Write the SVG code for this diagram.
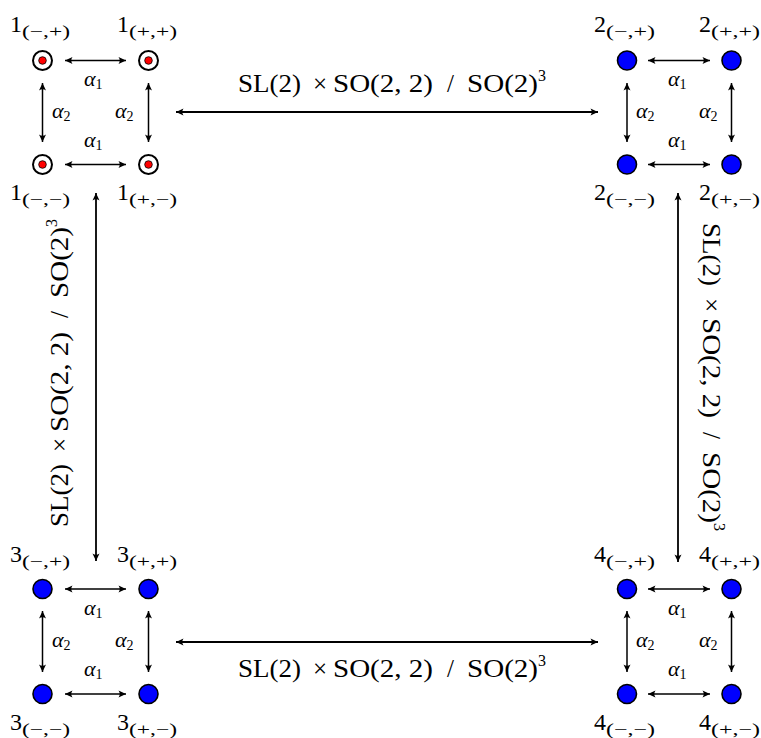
<svg xmlns="http://www.w3.org/2000/svg" width="761" height="738" viewBox="0 0 761 738">
<defs>
<style>
.t{font-family:"Liberation Serif","DejaVu Serif",serif;fill:#000}
.big{font-size:25px}
.sup{font-size:16px}
.dig{font-size:24px}
.sub{font-size:16px}
.al{font-family:"Liberation Serif","DejaVu Serif",serif;font-style:italic;font-size:22px}
.als{font-family:"Liberation Serif","DejaVu Serif",serif;font-style:normal;font-size:14px}
.ar{stroke:#000;stroke-width:1.5;fill:none;marker-start:url(#ah);marker-end:url(#ah)}
.arb{stroke:#000;stroke-width:1.8;fill:none;marker-start:url(#ah);marker-end:url(#ah)}
.bn{fill:#0000ff;stroke:#000;stroke-width:1.6}
.on{fill:#fff;stroke:#000;stroke-width:2}
.rd{fill:#ff0000;stroke:#000;stroke-width:0.8}
</style>
<marker id="ah" viewBox="-8 -4 9 8" refX="0" refY="0" markerWidth="9" markerHeight="8" markerUnits="userSpaceOnUse" orient="auto-start-reverse">
<path d="M0,0 L-7.5,-3.5 Q-5,0 -7.5,3.5 Z" fill="#000"/>
</marker>
</defs>
<rect width="761" height="738" fill="#fff"/>

<g id="connectors">
<line class="ar" x1="65" y1="60.5" x2="126" y2="60.5"/>
<line class="ar" x1="65" y1="164.5" x2="126" y2="164.5"/>
<line class="ar" x1="42.5" y1="83" x2="42.5" y2="142"/>
<line class="ar" x1="148.5" y1="83" x2="148.5" y2="142"/>
<line class="ar" x1="648" y1="60.5" x2="710" y2="60.5"/>
<line class="ar" x1="648" y1="164.5" x2="710" y2="164.5"/>
<line class="ar" x1="627" y1="83" x2="627" y2="142"/>
<line class="ar" x1="731.5" y1="83" x2="731.5" y2="142"/>
<line class="ar" x1="65" y1="589" x2="126" y2="589"/>
<line class="ar" x1="65" y1="694" x2="126" y2="694"/>
<line class="ar" x1="42.5" y1="611" x2="42.5" y2="672"/>
<line class="ar" x1="148.5" y1="611" x2="148.5" y2="672"/>
<line class="ar" x1="648" y1="589" x2="710" y2="589"/>
<line class="ar" x1="648" y1="694" x2="710" y2="694"/>
<line class="ar" x1="627" y1="611" x2="627" y2="672"/>
<line class="ar" x1="731.5" y1="611" x2="731.5" y2="672"/>
<line class="arb" x1="176" y1="112" x2="598" y2="112"/>
<line class="arb" x1="176" y1="642" x2="598" y2="642"/>
<line class="arb" x1="96" y1="193" x2="96" y2="561"/>
<line class="arb" x1="678" y1="193" x2="678" y2="562"/>
</g>

<g id="edge-labels">
<text class="al" x="84" y="86">α<tspan class="als" dy="3">1</tspan></text>
<text class="al" x="84" y="147">α<tspan class="als" dy="3">1</tspan></text>
<text class="al" x="52" y="118">α<tspan class="als" dy="3">2</tspan></text>
<text class="al" x="115" y="118">α<tspan class="als" dy="3">2</tspan></text>
<text class="al" x="668" y="86">α<tspan class="als" dy="3">1</tspan></text>
<text class="al" x="668" y="147">α<tspan class="als" dy="3">1</tspan></text>
<text class="al" x="636" y="118">α<tspan class="als" dy="3">2</tspan></text>
<text class="al" x="699" y="118">α<tspan class="als" dy="3">2</tspan></text>
<text class="al" x="84" y="615">α<tspan class="als" dy="3">1</tspan></text>
<text class="al" x="84" y="676">α<tspan class="als" dy="3">1</tspan></text>
<text class="al" x="52" y="647">α<tspan class="als" dy="3">2</tspan></text>
<text class="al" x="115" y="647">α<tspan class="als" dy="3">2</tspan></text>
<text class="al" x="668" y="615">α<tspan class="als" dy="3">1</tspan></text>
<text class="al" x="668" y="676">α<tspan class="als" dy="3">1</tspan></text>
<text class="al" x="636" y="647">α<tspan class="als" dy="3">2</tspan></text>
<text class="al" x="699" y="647">α<tspan class="als" dy="3">2</tspan></text>

<g id="label-top" class="t big">
<text x="238" y="92" textLength="63" lengthAdjust="spacingAndGlyphs">SL(2)</text>
<text x="313" y="92">×</text>
<text x="333" y="92" textLength="100" lengthAdjust="spacingAndGlyphs">SO(2, 2)</text>
<text x="447" y="92">/</text>
<text x="467" y="92" textLength="71" lengthAdjust="spacingAndGlyphs">SO(2)</text>
<text class="sup" x="538" y="81">3</text>
</g>
<g id="label-bottom" class="t big">
<text x="238" y="677" textLength="63" lengthAdjust="spacingAndGlyphs">SL(2)</text>
<text x="313" y="677">×</text>
<text x="333" y="677" textLength="100" lengthAdjust="spacingAndGlyphs">SO(2, 2)</text>
<text x="447" y="677">/</text>
<text x="467" y="677" textLength="71" lengthAdjust="spacingAndGlyphs">SO(2)</text>
<text class="sup" x="538" y="666">3</text>
</g>
<g id="label-left" class="t big" transform="translate(68,527) rotate(-90)">
<text x="0" y="0" textLength="63" lengthAdjust="spacingAndGlyphs">SL(2)</text>
<text x="75" y="0">×</text>
<text x="95" y="0" textLength="100" lengthAdjust="spacingAndGlyphs">SO(2, 2)</text>
<text x="209" y="0">/</text>
<text x="229" y="0" textLength="71" lengthAdjust="spacingAndGlyphs">SO(2)</text>
<text class="sup" x="300" y="-11">3</text>
</g>
<g id="label-right" class="t big" transform="translate(703,223) rotate(90)">
<text x="0" y="0" textLength="63" lengthAdjust="spacingAndGlyphs">SL(2)</text>
<text x="75" y="0">×</text>
<text x="95" y="0" textLength="100" lengthAdjust="spacingAndGlyphs">SO(2, 2)</text>
<text x="209" y="0">/</text>
<text x="229" y="0" textLength="71" lengthAdjust="spacingAndGlyphs">SO(2)</text>
<text class="sup" x="300" y="-11">3</text>
</g>
</g>

<g id="n1mp"><circle class="on" cx="42.5" cy="60.5" r="9.5"/><circle class="rd" cx="42.5" cy="60.5" r="3.8"/>
<text class="t dig" x="10" y="32">1<tspan class="sub" dy="5" textLength="48" lengthAdjust="spacingAndGlyphs">(−,+)</tspan></text></g>
<g id="n1pp"><circle class="on" cx="148.5" cy="60.5" r="9.5"/><circle class="rd" cx="148.5" cy="60.5" r="3.8"/>
<text class="t dig" x="117" y="32">1<tspan class="sub" dy="5" textLength="48" lengthAdjust="spacingAndGlyphs">(+,+)</tspan></text></g>
<g id="n1mm"><circle class="on" cx="42.5" cy="164.5" r="9.5"/><circle class="rd" cx="42.5" cy="164.5" r="3.8"/>
<text class="t dig" x="10" y="200">1<tspan class="sub" dy="5" textLength="48" lengthAdjust="spacingAndGlyphs">(−,−)</tspan></text></g>
<g id="n1pm"><circle class="on" cx="148.5" cy="164.5" r="9.5"/><circle class="rd" cx="148.5" cy="164.5" r="3.8"/>
<text class="t dig" x="117" y="200">1<tspan class="sub" dy="5" textLength="48" lengthAdjust="spacingAndGlyphs">(+,−)</tspan></text></g>

<g id="n2mp"><circle class="bn" cx="627" cy="60.5" r="9.5"/>
<text class="t dig" x="594" y="32">2<tspan class="sub" dy="5" textLength="49" lengthAdjust="spacingAndGlyphs">(−,+)</tspan></text></g>
<g id="n2pp"><circle class="bn" cx="731.5" cy="60.5" r="9.5"/>
<text class="t dig" x="699" y="32">2<tspan class="sub" dy="5" textLength="49" lengthAdjust="spacingAndGlyphs">(+,+)</tspan></text></g>
<g id="n2mm"><circle class="bn" cx="627" cy="164.5" r="9.5"/>
<text class="t dig" x="594" y="200">2<tspan class="sub" dy="5" textLength="49" lengthAdjust="spacingAndGlyphs">(−,−)</tspan></text></g>
<g id="n2pm"><circle class="bn" cx="731.5" cy="164.5" r="9.5"/>
<text class="t dig" x="699" y="200">2<tspan class="sub" dy="5" textLength="49" lengthAdjust="spacingAndGlyphs">(+,−)</tspan></text></g>

<g id="n3mp"><circle class="bn" cx="42.5" cy="589" r="9.5"/>
<text class="t dig" x="10" y="562">3<tspan class="sub" dy="5" textLength="48" lengthAdjust="spacingAndGlyphs">(−,+)</tspan></text></g>
<g id="n3pp"><circle class="bn" cx="148.5" cy="589" r="9.5"/>
<text class="t dig" x="117" y="562">3<tspan class="sub" dy="5" textLength="48" lengthAdjust="spacingAndGlyphs">(+,+)</tspan></text></g>
<g id="n3mm"><circle class="bn" cx="42.5" cy="694" r="9.5"/>
<text class="t dig" x="10" y="730">3<tspan class="sub" dy="5" textLength="48" lengthAdjust="spacingAndGlyphs">(−,−)</tspan></text></g>
<g id="n3pm"><circle class="bn" cx="148.5" cy="694" r="9.5"/>
<text class="t dig" x="117" y="730">3<tspan class="sub" dy="5" textLength="48" lengthAdjust="spacingAndGlyphs">(+,−)</tspan></text></g>

<g id="n4mp"><circle class="bn" cx="627" cy="589" r="9.5"/>
<text class="t dig" x="594" y="562">4<tspan class="sub" dy="5" textLength="49" lengthAdjust="spacingAndGlyphs">(−,+)</tspan></text></g>
<g id="n4pp"><circle class="bn" cx="731.5" cy="589" r="9.5"/>
<text class="t dig" x="699" y="562">4<tspan class="sub" dy="5" textLength="49" lengthAdjust="spacingAndGlyphs">(+,+)</tspan></text></g>
<g id="n4mm"><circle class="bn" cx="627" cy="694" r="9.5"/>
<text class="t dig" x="594" y="730">4<tspan class="sub" dy="5" textLength="49" lengthAdjust="spacingAndGlyphs">(−,−)</tspan></text></g>
<g id="n4pm"><circle class="bn" cx="731.5" cy="694" r="9.5"/>
<text class="t dig" x="699" y="730">4<tspan class="sub" dy="5" textLength="49" lengthAdjust="spacingAndGlyphs">(+,−)</tspan></text></g>
</svg>
